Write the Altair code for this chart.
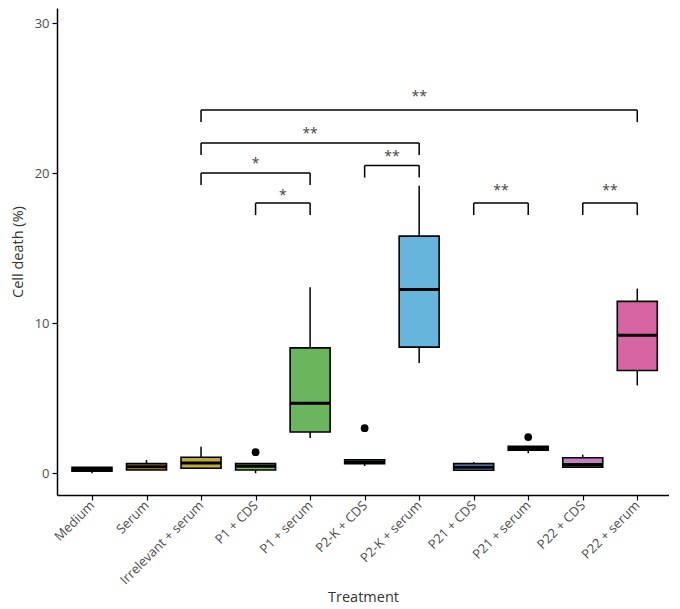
import altair as alt
import pandas as pd

categories = ["Medium", "Serum", "Irrelevant + serum", "P1 + CDS", "P1 + serum",
              "P2-K + CDS", "P2-K + serum", "P21 + CDS", "P21 + serum",
              "P22 + CDS", "P22 + serum"]
colors = ["#e8776f", "#c28634", "#b8aa3c", "#7fbf55", "#6ab55e", "#55b99a",
          "#66b5dc", "#5a9ad6", "#9a8ad0", "#c47ec3", "#d865a3"]
whisker_low = [0.0, 0.2, 0.33, 0.0, 2.35, 0.48, 7.35, 0.2, 1.34, 0.41, 5.85]
q1 = [0.13, 0.22, 0.33, 0.22, 2.75, 0.64, 8.4, 0.2, 1.53, 0.41, 6.85]
median = [0.25, 0.43, 0.68, 0.46, 4.67, 0.75, 12.25, 0.4, 1.65, 0.59, 9.2]
q3 = [0.39, 0.64, 1.07, 0.64, 8.35, 0.9, 15.8, 0.64, 1.8, 1.03, 11.45]
whisker_high = [0.39, 0.88, 1.76, 0.64, 12.4, 0.9, 19.15, 0.74, 1.8, 1.23, 12.3]

outlier_group = ["P1 + CDS", "P2-K + CDS", "P21 + serum"]
outlier_value = [1.4, 3.0, 2.41]

bracket_left = ["Irrelevant + serum", "Irrelevant + serum", "Irrelevant + serum",
                "P1 + CDS", "P2-K + CDS", "P21 + CDS", "P22 + CDS"]
bracket_right = ["P22 + serum", "P2-K + serum", "P1 + serum", "P1 + serum",
                 "P2-K + serum", "P21 + serum", "P22 + serum"]
bracket_height = [24.2, 22.0, 20.0, 18.0, 20.5, 18.0, 18.0]
bracket_label = ["**", "**", "*", "*", "**", "**", "**"]
label_height = [25.3, 22.8, 20.8, 18.7, 21.3, 19.0, 19.0]
bracket_drop = 0.8

idx = {c: i for i, c in enumerate(categories)}

boxes = pd.DataFrame({
    "cat": categories, "i": list(range(len(categories))),
    "lo": whisker_low, "q1": q1, "med": median, "q3": q3, "hi": whisker_high,
})
outs = pd.DataFrame({"cat": outlier_group, "i": [idx[c] for c in outlier_group],
                     "v": outlier_value})
br = pd.DataFrame({
    "l": [idx[c] for c in bracket_left], "r": [idx[c] for c in bracket_right],
    "h": bracket_height, "lab": bracket_label, "lh": label_height,
})
br["m"] = (br["l"] + br["r"]) / 2
br["hd"] = br["h"] - bracket_drop

label_expr = "[" + ",".join("'" + c + "'" for c in categories) + "][datum.value]"

xscale = alt.Scale(domain=[-0.55, 10.49], nice=False, zero=False)
yscale = alt.Scale(domain=[-1.45, 31.0], nice=False, zero=False)

xaxis = alt.Axis(values=list(range(len(categories))), labelExpr=label_expr,
                 title="Treatment", labelAngle=-45, labelAlign="right",
                 labelBaseline="middle", labelPadding=3, titlePadding=4,
                 labelOverlap=False, labelBound=False, labelFlush=False)
yaxis = alt.Axis(values=[0, 10, 20, 30], title="Cell death (%)", titlePadding=9)

X = alt.X("i:Q", scale=xscale, axis=xaxis)
color = alt.Color("cat:N", scale=alt.Scale(domain=categories, range=colors), legend=None)

base = alt.Chart(boxes)
wlow = base.mark_rule(color="black", strokeWidth=1.5).encode(
    x=X, y=alt.Y("lo:Q", scale=yscale, axis=yaxis), y2="q1:Q")
whigh = base.mark_rule(color="black", strokeWidth=1.5).encode(
    x=X, y=alt.Y("q3:Q", scale=yscale), y2="hi:Q")
box = base.mark_bar(size=40, stroke="black", strokeWidth=1.6).encode(
    x=X, y=alt.Y("q1:Q", scale=yscale), y2="q3:Q", color=color)
med = base.mark_tick(orient="horizontal", size=40, thickness=3, color="black",
                     opacity=1).encode(
    x=X, y=alt.Y("med:Q", scale=yscale))
pts = alt.Chart(outs).mark_point(filled=True, color="black", size=60, opacity=1).encode(
    x=X, y=alt.Y("v:Q", scale=yscale))

bb = alt.Chart(br)
hline = bb.mark_rule(color="black", strokeWidth=1.5).encode(
    x=alt.X("l:Q", scale=xscale), x2="r:Q", y=alt.Y("h:Q", scale=yscale))
lt = bb.mark_rule(color="black", strokeWidth=1.5).encode(
    x=alt.X("l:Q", scale=xscale), y=alt.Y("h:Q", scale=yscale), y2="hd:Q")
rt = bb.mark_rule(color="black", strokeWidth=1.5).encode(
    x=alt.X("r:Q", scale=xscale), y=alt.Y("h:Q", scale=yscale), y2="hd:Q")
txt = bb.mark_text(fontSize=14, color="#444444", font="Open Sans", baseline="middle",
                   dy=3).encode(
    x=alt.X("m:Q", scale=xscale), y=alt.Y("lh:Q", scale=yscale), text="lab:N")

chart = alt.layer(wlow, whigh, box, med, pts, hline, lt, rt, txt).properties(
    width=612, height=487, padding={"left": 2, "top": 0, "right": 0, "bottom": 0}
).configure_view(stroke=None).configure_axis(
    grid=False, domainColor="black", domainWidth=1.5, tickColor="black",
    tickWidth=1.2, tickSize=5, labelColor="#4d4d4d", labelFontSize=13,
    labelFont="Open Sans", titleFont="Open Sans", titleFontSize=14.5,
    titleFontWeight="normal", titleColor="#333333", labelPadding=3
).configure_axisX(labelFontSize=13)

chart.save("out.html", embed_options={"renderer": "svg", "actions": False})
